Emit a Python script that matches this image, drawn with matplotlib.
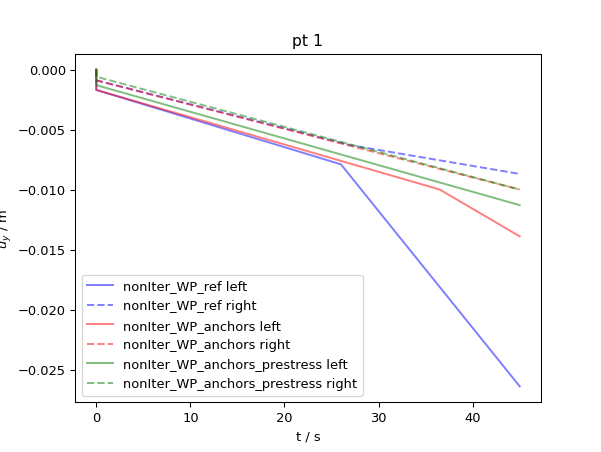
import matplotlib
matplotlib.use("Agg")
import matplotlib.pyplot as plt

t_ref_l = [0, 0, 26, 45]
u_ref_l = [0, -0.0017, -0.0079, -0.0264]
t_ref_r = [0, 0, 27, 45]
u_ref_r = [0, -0.0009, -0.0063, -0.0087]
t_anc_l = [0, 0, 36.5, 45]
u_anc_l = [0, -0.0017, -0.0100, -0.0139]
t_anc_r = [0, 0, 45]
u_anc_r = [0, -0.0009, -0.0100]
t_pre_l = [0, 0, 45]
u_pre_l = [0, -0.0013, -0.0113]
t_pre_r = [0, 0, 45]
u_pre_r = [0, -0.0006, -0.0100]

fig, ax = plt.subplots(figsize=(6.4, 4.82), dpi=601 / 6.4)
ax.plot(t_ref_l, u_ref_l, 'b-', alpha=0.5, label='nonIter_WP_ref left')
ax.plot(t_ref_r, u_ref_r, 'b--', alpha=0.5, label='nonIter_WP_ref right')
ax.plot(t_anc_l, u_anc_l, 'r-', alpha=0.5, label='nonIter_WP_anchors left')
ax.plot(t_anc_r, u_anc_r, 'r--', alpha=0.5, label='nonIter_WP_anchors right')
ax.plot(t_pre_l, u_pre_l, 'g-', alpha=0.5, label='nonIter_WP_anchors_prestress left')
ax.plot(t_pre_r, u_pre_r, 'g--', alpha=0.5, label='nonIter_WP_anchors_prestress right')
ax.set_title('pt 1')
ax.set_xlabel('t / s')
ax.set_ylabel('$u_y$ / m')
ax.legend(loc='lower left')
fig.savefig('out.png')
